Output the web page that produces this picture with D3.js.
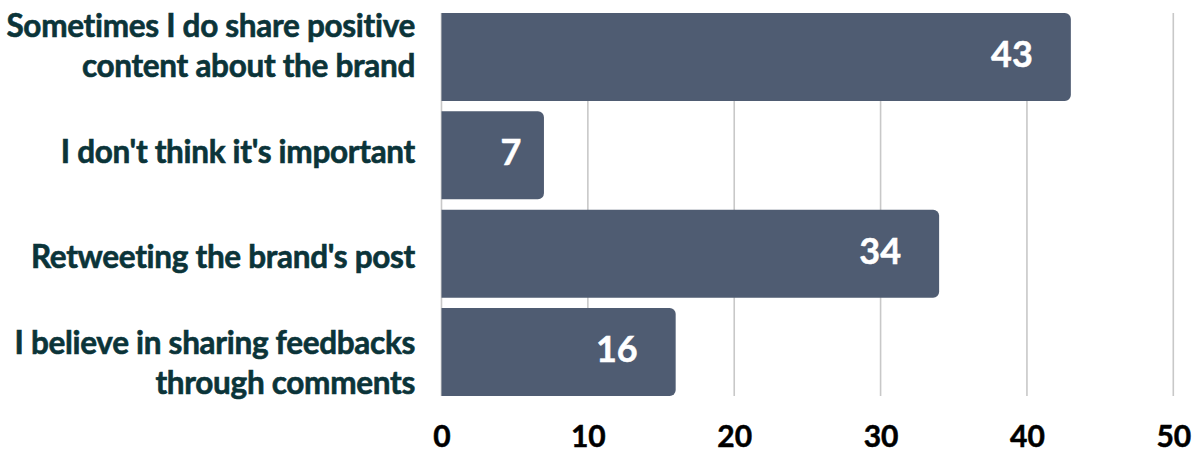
<!DOCTYPE html>
<html>
<head>
<meta charset="utf-8">
<script src="https://cdn.jsdelivr.net/npm/d3@7"></script>
<style>
  html, body { margin: 0; padding: 0; background: #ffffff; }
  svg { display: block; }
</style>
</head>
<body>
<svg id="chart" width="1196" height="452"></svg>
<script>
// Survey answers (category lines split with "\n") and their counts
const categories = [
  "Sometimes I do share positive\ncontent about the brand",
  "I don't think it's important",
  "Retweeting the brand's post",
  "I believe in sharing feedbacks\nthrough comments"
];
const values = [43, 7, 34, 16];
const xTicks = [0, 10, 20, 30, 40, 50];

const W = 1196, H = 452;
const svg = d3.select("#chart");

const barColor = "#4f5c72";
const labelColor = "#0b3439";
const gridColor = "#c8c8c8";
const fontFamily = "Lato, 'Open Sans', sans-serif";

// Scales
const x = d3.scaleLinear().domain([0, 50]).range([441.5, 1173.3]);
const y = d3.scaleBand().domain(categories).range([13, 396])
  .paddingInner(0.105).paddingOuter(0);
const yLabel = d3.scalePoint().domain(categories).range([46, 362.3]);

// Vertical gridlines
svg.append("g").selectAll("line")
  .data(xTicks)
  .join("line")
  .attr("x1", d => x(d)).attr("x2", d => x(d))
  .attr("y1", 13).attr("y2", 396)
  .attr("stroke", gridColor)
  .attr("stroke-width", 1.6);

// Bars with rounded right corners
function barPath(x0, x1, y0, h, r) {
  r = Math.min(r, x1 - x0, h / 2);
  return `M${x0},${y0}H${x1 - r}A${r},${r} 0 0 1 ${x1},${y0 + r}` +
         `V${y0 + h - r}A${r},${r} 0 0 1 ${x1 - r},${y0 + h}H${x0}Z`;
}
const rows = categories.map((c, i) => ({ cat: c, value: values[i] }));

svg.append("g").selectAll("path")
  .data(rows)
  .join("path")
  .attr("d", d => barPath(x(0), x(d.value), y(d.cat), y.bandwidth(), 6))
  .attr("fill", barColor);

// Value labels inside the bar ends
svg.append("g").selectAll("text")
  .data(rows)
  .join("text")
  .attr("x", d => {
    const w = x(d.value) - x(0);
    return x(d.value) - Math.min(38, w * 0.22);
  })
  .attr("y", d => y(d.cat) + y.bandwidth() / 2 + 10)
  .attr("text-anchor", "end")
  .attr("fill", "#ffffff")
  .attr("stroke", "#ffffff")
  .attr("stroke-width", 0.5)
  .attr("font-family", fontFamily)
  .attr("font-weight", 700)
  .attr("font-size", 36)
  .text(d => d.value);

// Category labels, right aligned, possibly on two lines
const lineH = 40;
const catG = svg.append("g");
categories.forEach(c => {
  const lines = c.split("\n");
  const t = catG.append("text")
    .attr("text-anchor", "end")
    .attr("fill", labelColor)
    .attr("stroke", labelColor)
    .attr("stroke-width", 0.6)
    .attr("font-family", fontFamily)
    .attr("font-weight", 700)
    .attr("font-size", 31.5)
    .attr("letter-spacing", -0.3);
  lines.forEach((ln, i) => {
    t.append("tspan")
      .attr("x", 415)
      .attr("y", yLabel(c) + (i - (lines.length - 1) / 2) * lineH + 11.3)
      .text(ln);
  });
});

// Bottom axis tick labels
const xAxis = d3.axisBottom(x).tickValues(xTicks).tickSize(0).tickPadding(0);
const axisG = svg.append("g")
  .attr("transform", `translate(0, 424)`)
  .call(xAxis);
axisG.select(".domain").remove();
axisG.selectAll("text")
  .attr("dy", "0.75em")
  .attr("fill", "#000000")
  .attr("stroke", "#000000")
  .attr("stroke-width", 0.5)
  .attr("font-family", fontFamily)
  .attr("font-weight", 700)
  .attr("font-size", 30);
</script>
</body>
</html>
